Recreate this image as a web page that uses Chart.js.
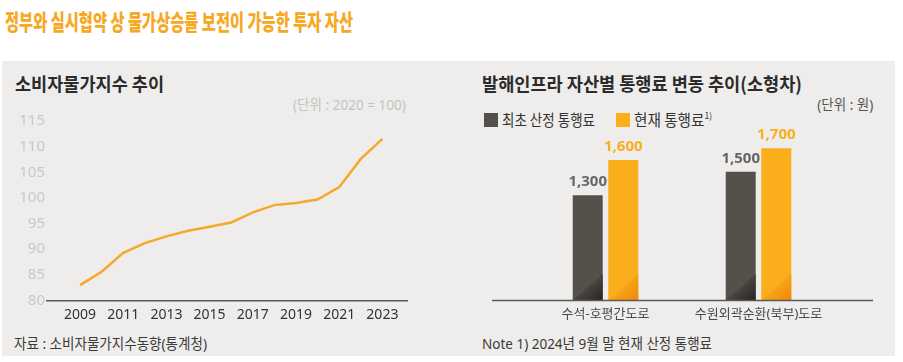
<!DOCTYPE html>
<html>
<head>
<meta charset="utf-8">
<script src="https://cdn.jsdelivr.net/npm/chart.js@4.4.1/dist/chart.umd.min.js"></script>
<style>
html,body{margin:0;padding:0;background:#fff;width:903px;height:362px;overflow:hidden;}
body{font-family:"Noto Sans","Noto Sans CJK KR",sans-serif;position:relative;}
.t{position:absolute;white-space:nowrap;display:inline-block;transform-origin:0 50%;}
.r{transform-origin:100% 50%;}
#panel{position:absolute;left:2px;top:61px;width:893px;height:295px;background:#eeedeb;}
#mainTitle{left:5px;top:6px;font-family:"Noto Sans CJK KR";font-weight:900;font-size:21.5px;line-height:30px;color:#f7a823;}
.ptitle{top:71px;font-family:"Noto Sans CJK KR";font-weight:700;font-size:18.5px;line-height:24px;color:#2b2b2b;}
.unit{top:94px;font-size:15px;line-height:20px;}
.leg{top:109px;font-size:15.5px;line-height:20px;color:#333;font-family:"Noto Sans CJK KR";}
.sq{position:absolute;width:14px;height:14px;top:112.5px;}
.foot{top:333px;font-size:15px;line-height:20px;color:#3a3a3a;}
sup{font-size:9px;vertical-align:top;position:relative;top:-3px;}
canvas{position:absolute;}
</style>
</head>
<body>
<div id="panel"></div>
<div class="t" id="mainTitle" data-w="348">정부와 실시협약 상 물가상승률 보전이 가능한 투자 자산</div>

<div class="t ptitle" style="left:15px" data-w="149">소비자물가지수 추이</div>
<div class="t unit r" style="right:497px;color:#c4c4c4" data-w="113">(단위 : 2020 = 100)</div>
<div class="t foot" style="left:14px" data-w="193">자료 : 소비자물가지수동향(통계청)</div>

<div class="t ptitle" style="left:482px" data-w="320">발해인프라 자산별 통행료 변동 추이(소형차)</div>
<div class="t unit r" style="right:30px;color:#555" data-w="56">(단위 : 원)</div>
<div class="sq" style="left:484px;background:#53514a"></div>
<div class="t leg" id="leg1" style="left:502px" data-w="93"></div>
<div class="sq" style="left:616px;background:#fbae1b"></div>
<div class="t leg" id="leg2" style="left:634px" data-w="78"></div>
<div class="t foot" style="left:482px" data-w="230">Note 1) 2024년 9월 말 현재 산정 통행료</div>

<canvas id="cpi" width="440" height="231" style="left:0;top:100px;width:440px;height:231px"></canvas>
<canvas id="toll" width="440" height="231" style="left:450px;top:100px;width:440px;height:231px"></canvas>

<script>
// ---------- data: consumer price index ----------
const years = [2009,2010,2011,2012,2013,2014,2015,2016,2017,2018,2019,2020,2021,2022,2023];
const cpiValues = [83.0,85.6,89.3,91.2,92.5,93.6,94.4,95.2,97.2,98.6,99.0,99.7,102.1,107.6,111.5];
const yearTickLabels = ['2009','2011','2013','2015','2017','2019','2021','2023'];
const cpiTickValues = [80,85,90,95,100,105,110,115];

// ---------- data: toll fees ----------
const roads = ['수석-호평간도로','수원외곽순환(북부)도로'];
const seriesNames = ['최초 산정 통행료','현재 통행료'];
const initialToll = [1300,1500];
const currentToll = [1600,1700];
const tollAxisMin = 400;
const tollAxisMax = 2000;

document.getElementById('leg1').textContent = seriesNames[0];
document.getElementById('leg2').innerHTML = seriesNames[1] + '<sup>1)</sup>';

Chart.defaults.font.family = '"Noto Sans","Noto Sans CJK KR",sans-serif';
Chart.defaults.animation = false;

// CPI line chart
new Chart(document.getElementById('cpi'), {
  type: 'line',
  data: {
    datasets: [{
      data: years.map((y, i) => ({x: y, y: cpiValues[i]})),
      borderColor: '#f5a82a',
      borderWidth: 2.5,
      pointRadius: 0,
      tension: 0,
      fill: false
    }]
  },
  options: {
    responsive: false,
    devicePixelRatio: 1,
    layout: {padding: {top: 21, right: 33, bottom: 0.5, left: 0}},
    plugins: {legend: {display: false}, tooltip: {enabled: false}},
    scales: {
      x: {
        type: 'linear', min: 2007.47, max: 2024.14,
        grid: {display: false, drawTicks: false},
        border: {display: true, color: '#5a5a5a', width: 1.5},
        afterBuildTicks: s => { s.ticks = yearTickLabels.map(t => ({value: Number(t)})); },
        ticks: {
          autoSkip: false, maxRotation: 0, padding: 6, color: '#333',
          font: {size: 14},
          callback: v => yearTickLabels.find(t => Number(t) === v) || ''
        },
        afterFit: s => { s.height = 30; }
      },
      y: {
        min: 80, max: 115,
        grid: {display: false, drawTicks: false},
        border: {display: false},
        afterBuildTicks: s => { s.ticks = cpiTickValues.map(v => ({value: v})); },
        ticks: {padding: 2, color: '#c8c8c8', font: {size: 15}, callback: v => String(v)},
        afterFit: s => { s.width = 47; }
      }
    }
  }
});

// plugins for the toll chart
const wedgePlugin = {
  id: 'wedge',
  afterDatasetsDraw(chart) {
    const ctx = chart.ctx;
    chart.data.datasets.forEach((ds, di) => {
      chart.getDatasetMeta(di).data.forEach(el => {
        const p = el.getProps(['x', 'y', 'base', 'width'], true);
        const L = p.x - p.width / 2, R = p.x + p.width / 2;
        const B = Math.min(p.base, chart.chartArea.bottom);
        const w = R - L, h = 27;
        const len = Math.hypot(w, h);
        const nx = h / len, ny = w / len, dist = w * h / len;
        const g = ctx.createLinearGradient(L, B, L + nx * dist, B + ny * dist);
        g.addColorStop(0, ds.wedge[0]);
        g.addColorStop(1, ds.wedge[1]);
        ctx.save();
        ctx.beginPath();
        ctx.moveTo(L, B);
        ctx.lineTo(R, B - h);
        ctx.lineTo(R, B);
        ctx.closePath();
        ctx.fillStyle = g;
        ctx.fill();
        ctx.restore();
      });
    });
  }
};
const baselinePlugin = {
  id: 'baseline',
  afterDatasetsDraw(chart) {
    const {ctx, chartArea: a} = chart;
    ctx.save();
    ctx.strokeStyle = '#5a5a5a';
    ctx.lineWidth = 1.5;
    ctx.beginPath();
    ctx.moveTo(a.left - 37, a.bottom);
    ctx.lineTo(a.right + 38, a.bottom);
    ctx.stroke();
    ctx.restore();
  }
};
const valueLabelPlugin = {
  id: 'valueLabels',
  afterDatasetsDraw(chart) {
    const ctx = chart.ctx;
    ctx.save();
    ctx.font = 'bold 15px "Noto Sans","Noto Sans CJK KR",sans-serif';
    ctx.textAlign = 'center';
    ctx.textBaseline = 'alphabetic';
    chart.data.datasets.forEach((ds, di) => {
      ctx.fillStyle = ds.labelColor;
      chart.getDatasetMeta(di).data.forEach((el, i) => {
        ctx.fillText(ds.data[i].toLocaleString('en-US'), el.x, el.y - 9);
      });
    });
    ctx.restore();
  }
};

new Chart(document.getElementById('toll'), {
  type: 'bar',
  data: {
    labels: roads,
    datasets: [
      {label: seriesNames[0], data: initialToll, backgroundColor: '#53514a', base: tollAxisMin,
       labelColor: '#666666', wedge: ['#48463e', '#26241f']},
      {label: seriesNames[1], data: currentToll, backgroundColor: '#fbae1b', base: tollAxisMin,
       labelColor: '#f9ae1e', wedge: ['#f8a418', '#f2860a']}
    ]
  },
  options: {
    responsive: false,
    devicePixelRatio: 1,
    categoryPercentage: 0.465,
    barPercentage: 0.843,
    layout: {padding: {top: 13.2, right: 55, bottom: 0.5, left: 79}},
    plugins: {legend: {display: false}, tooltip: {enabled: false}},
    scales: {
      x: {
        grid: {display: false, drawTicks: false},
        border: {display: false},
        ticks: {padding: 6, color: '#4a4a4a', font: {size: 13}},
        afterFit: s => { s.height = 30; }
      },
      y: {display: false, min: tollAxisMin, max: tollAxisMax}
    }
  },
  plugins: [wedgePlugin, baselinePlugin, valueLabelPlugin]
});

// fit text widths to the reference footprint
document.querySelectorAll('[data-w]').forEach(el => {
  const w = el.getBoundingClientRect().width;
  el.style.transform = 'scaleX(' + (Number(el.dataset.w) / w) + ')';
});
</script>
</body>
</html>
